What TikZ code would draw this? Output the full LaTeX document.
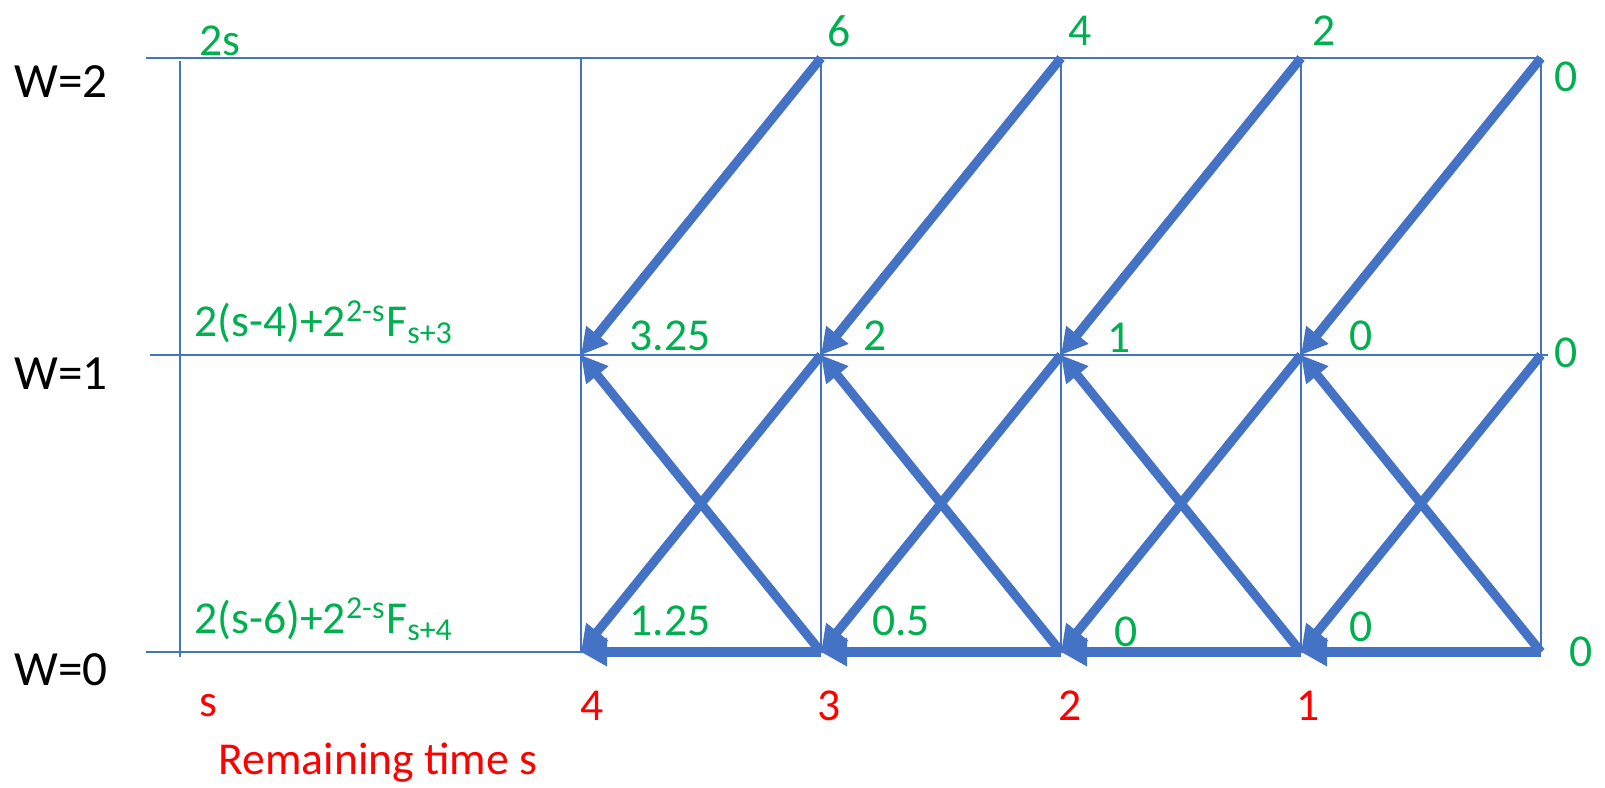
\documentclass[tikz,border=0pt]{standalone}
\usepackage{fontspec}
\setmainfont{Carlito}
\definecolor{lane}{RGB}{68,114,196}
\definecolor{payoff}{RGB}{0,176,80}
\definecolor{clock}{RGB}{255,0,0}
\usetikzlibrary{arrows.meta}
\tikzset{
  gridline/.style={lane, line width=0.55pt},
  jump/.style={-{Triangle[length=2.6mm, width=2.7mm]}, lane, line width=2.6pt},
  val/.style={text=payoff, font=\fontsize{13}{15}\selectfont, inner sep=1pt},
  lvl/.style={text=black, font=\fontsize{14}{16}\selectfont, inner sep=1pt},
  tme/.style={text=clock, font=\fontsize{13}{15}\selectfont, inner sep=1pt},
}
\begin{document}
\begin{tikzpicture}
    \useasboundingbox (0,0) rectangle (16.05,7.87);
    % grid points: t = W=2, m = W=1, b = W=0, digit = remaining time
    \coordinate (t4) at (5.81,7.29);  \coordinate (m4) at (5.81,4.32);  \coordinate (b4) at (5.81,1.35);
    \coordinate (t3) at (8.21,7.29);  \coordinate (m3) at (8.21,4.32);  \coordinate (b3) at (8.21,1.35);
    \coordinate (t2) at (10.61,7.29); \coordinate (m2) at (10.61,4.32); \coordinate (b2) at (10.61,1.35);
    \coordinate (t1) at (13.01,7.29); \coordinate (m1) at (13.01,4.32); \coordinate (b1) at (13.01,1.35);
    \coordinate (t0) at (15.41,7.29); \coordinate (m0) at (15.41,4.32); \coordinate (b0) at (15.41,1.35);
    \coordinate (ts) at (1.46,7.29);  \coordinate (ms) at (1.50,4.32);  \coordinate (bs) at (1.46,1.35);
    \coordinate (mr) at (15.48,4.32);
    \coordinate (sTop) at (1.80,7.26); \coordinate (sBot) at (1.80,1.30);

    % thin grid
    \draw[gridline] (ts) -- (t0);
    \draw[gridline] (ms) -- (mr);
    \draw[gridline] (bs) -- (b0);
    \draw[gridline] (sTop) -- (sBot);
    \draw[gridline] (t4) -- (b4);
    \draw[gridline] (t3) -- (b3);
    \draw[gridline] (t2) -- (b2);
    \draw[gridline] (t1) -- (b1);
    \draw[gridline] (t0) -- (b0);

    % transitions
    \draw[jump] (t3) -- (m4);
    \draw[jump] (t2) -- (m3);
    \draw[jump] (t1) -- (m2);
    \draw[jump] (t0) -- (m1);
    \draw[jump] (b3) -- (m4);
    \draw[jump] (b2) -- (m3);
    \draw[jump] (b1) -- (m2);
    \draw[jump] (b0) -- (m1);
    \draw[jump] (m3) -- (b4);
    \draw[jump] (m2) -- (b3);
    \draw[jump] (m1) -- (b2);
    \draw[jump] (m0) -- (b1);
    \draw[jump, yshift=-1.4pt] (b3) -- (b4);
    \draw[jump, yshift=-1.4pt] (b2) -- (b3);
    \draw[jump, yshift=-1.4pt] (b1) -- (b2);
    \draw[jump, yshift=-1.4pt] (b0) -- (b1);

    % wealth levels
    \node[lvl] (w2) at (0.61,7.05) {W=2};
    \node[lvl] (w1) at (0.61,4.13) {W=1};
    \node[lvl] (w0) at (0.61,1.17) {W=0};

    % values
    \node[val] (vts) at (2.20,7.46) {2s};
    \node[val] (vt3) at (8.39,7.56) {6};
    \node[val] (vt2) at (10.80,7.56) {4};
    \node[val] (vt1) at (13.24,7.56) {2};
    \node[val] (vt0) at (15.66,7.10) {0};
    \node[val, anchor=west] (vms) at (1.90,4.65) {2(s-4)+2\textsuperscript{2-s}F\textsubscript{s+3}};
    \node[val] (vm4) at (6.70,4.51) {3.25};
    \node[val] (vm3) at (8.75,4.51) {2};
    \node[val] (vm2) at (11.19,4.49) {1};
    \node[val] (vm1) at (13.61,4.51) {0};
    \node[val] (vm0) at (15.66,4.34) {0};
    \node[val, anchor=west] (vbs) at (1.90,1.68) {2(s-6)+2\textsuperscript{2-s}F\textsubscript{s+4}};
    \node[val] (vb4) at (6.70,1.66) {1.25};
    \node[val] (vb3) at (9.01,1.66) {0.5};
    \node[val] (vb2) at (11.26,1.55) {0};
    \node[val] (vb1) at (13.61,1.60) {0};
    \node[val] (vb0) at (15.81,1.35) {0};

    % remaining time
    \node[tme] (ss) at (2.08,0.81) {s};
    \node[tme] (s4) at (5.92,0.81) {4};
    \node[tme] (s3) at (8.29,0.81) {3};
    \node[tme] (s2) at (10.70,0.81) {2};
    \node[tme] (s1) at (13.08,0.81) {1};
    \node[tme] (axis) at (3.78,0.24) {Remaining time s};
\end{tikzpicture}
\end{document}
